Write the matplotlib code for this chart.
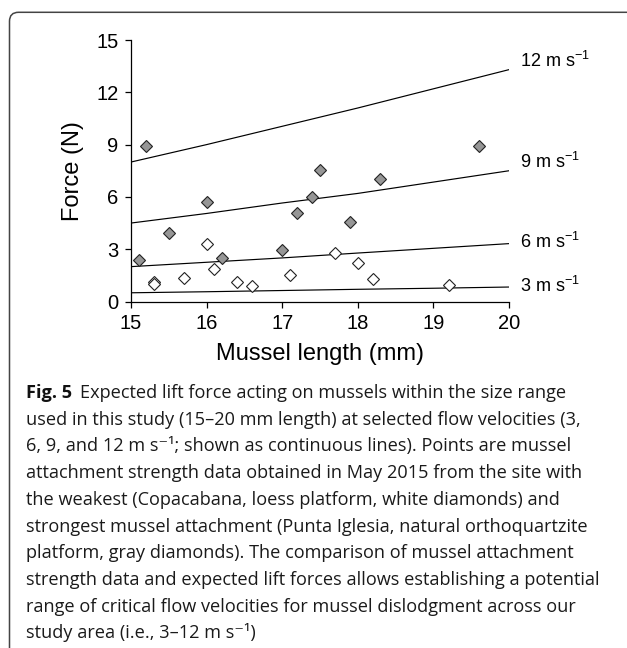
import matplotlib
matplotlib.use("Agg")
import matplotlib.pyplot as plt
from matplotlib import font_manager
from matplotlib.patches import FancyBboxPatch
from matplotlib.transforms import IdentityTransform

# expected lift force curves (N) vs mussel length (mm)
length_mm = [15, 16, 17, 18, 19, 20]
lift_3 = [0.50, 0.56, 0.63, 0.70, 0.76, 0.83]
lift_6 = [2.00, 2.25, 2.50, 2.78, 3.05, 3.32]
lift_9 = [4.50, 5.05, 5.65, 6.20, 6.85, 7.50]
lift_12 = [8.00, 9.00, 10.05, 11.10, 12.20, 13.30]
velocities = ["3", "6", "9", "12"]

# Punta Iglesia -> gray diamonds
strong_len = [15.2, 19.6, 17.5, 18.3, 17.4, 16.0, 17.2, 17.9, 15.5, 17.0, 15.1, 16.2]
strong_force = [8.92, 8.92, 7.54, 7.01, 6.00, 5.68, 5.09, 4.57, 3.94, 2.97, 2.36, 2.48]
# Copacabana -> white diamonds
weak_len = [16.0, 17.7, 18.0, 16.1, 17.1, 15.7, 18.2, 15.3, 15.3, 16.4, 16.6, 19.2]
weak_force = [3.30, 2.76, 2.19, 1.85, 1.50, 1.37, 1.30, 1.09, 0.99, 1.09, 0.91, 0.93]

x_ticks = [15, 16, 17, 18, 19, 20]
y_ticks = [0, 3, 6, 9, 12, 15]

caption_bold = "Fig. 5"
caption_lines = [
    "Expected lift force acting on mussels within the size range",
    "used in this study (15\u201320 mm length) at selected flow velocities (3,",
    "6, 9, and 12 m s\u207b\u00b9; shown as continuous lines). Points are mussel",
    "attachment strength data obtained in May 2015 from the site with",
    "the weakest (Copacabana, loess platform, white diamonds) and",
    "strongest mussel attachment (Punta Iglesia, natural orthoquartzite",
    "platform, gray diamonds). The comparison of mussel attachment",
    "strength data and expected lift forces allows establishing a potential",
    "range of critical flow velocities for mussel dislodgment across our",
    "study area (i.e., 3\u201312 m s\u207b\u00b9)",
]

plt.rcParams["font.family"] = ["Liberation Sans", "DejaVu Sans"]
plt.rcParams["mathtext.fontset"] = "custom"
plt.rcParams["mathtext.rm"] = "Liberation Sans"

W, H = 627, 648
fig = plt.figure(figsize=(W / 100, H / 100), dpi=100)
fig.patch.set_facecolor("white")

# rounded frame (pixel coords)
frame = FancyBboxPatch((9.5, -30), 660, H - 12.3 + 30,
                       boxstyle="round,pad=0,rounding_size=9",
                       transform=IdentityTransform(), facecolor="none",
                       edgecolor="#444444", linewidth=1.1)
fig.add_artist(frame)

ax = fig.add_axes([131 / W, 1 - 301.5 / H, 378 / W, 261.5 / H])

curves = [lift_3, lift_6, lift_9, lift_12]
label_dy = [0.06, 0.10, 0.50, 0.50]
for v, curve, dy in zip(velocities, curves, label_dy):
    ax.plot(length_mm, curve, color="black", lw=0.85)
    ax.text(20.15, curve[-1] + dy, v + r" m s$^{\mathregular{-1}}$",
            fontsize=13, ha="left", va="center", clip_on=False)

ax.plot(strong_len, strong_force, ls="none", marker="D", ms=6,
        mfc="#969696", mec="#222222", mew=0.8, clip_on=False)
ax.plot(weak_len, weak_force, ls="none", marker="D", ms=6,
        mfc="white", mec="#222222", mew=0.8, clip_on=False)

ax.set_xlim(15, 20)
ax.set_ylim(0, 15)
ax.set_xticks(x_ticks)
ax.set_yticks(y_ticks)
for s in ("top", "right"):
    ax.spines[s].set_visible(False)
for s in ("left", "bottom"):
    ax.spines[s].set_linewidth(0.9)
ax.tick_params(direction="out", length=4, width=0.9, labelsize=14.5)
ax.tick_params(axis="y", pad=5)
ax.tick_params(axis="x", pad=5)
ax.set_xlabel("Mussel length (mm)", fontsize=17, labelpad=7)
ax.set_ylabel("Force (N)", fontsize=17, labelpad=9)

# caption, sized so the longest line spans the same width as the reference
avail = {f.name for f in font_manager.fontManager.ttflist}
cap_font = next(f for f in ["Liberation Sans Narrow", "Open Sans", "DejaVu Sans"]
                if f in avail)
fam = [cap_font, "DejaVu Sans"]
renderer = fig.canvas.get_renderer()
probe = fig.text(0, 0, caption_lines[7], fontsize=10, family=fam)
cap_size = 10 * 576 / probe.get_window_extent(renderer).width
probe.remove()

x0 = 26
for i, line in enumerate(caption_lines):
    y = 1 - (398 + i * 26.7) / H
    x = x0
    if i == 0:
        t = fig.text(x0 / W, y, caption_bold, fontsize=cap_size, family=fam,
                     weight="bold", va="baseline", color="#111111")
        x = x0 + t.get_window_extent(renderer).width + 8
    fig.text(x / W, y, line, fontsize=cap_size, family=fam, va="baseline",
             color="#1a1a1a")

fig.savefig("out.png", dpi=100)
